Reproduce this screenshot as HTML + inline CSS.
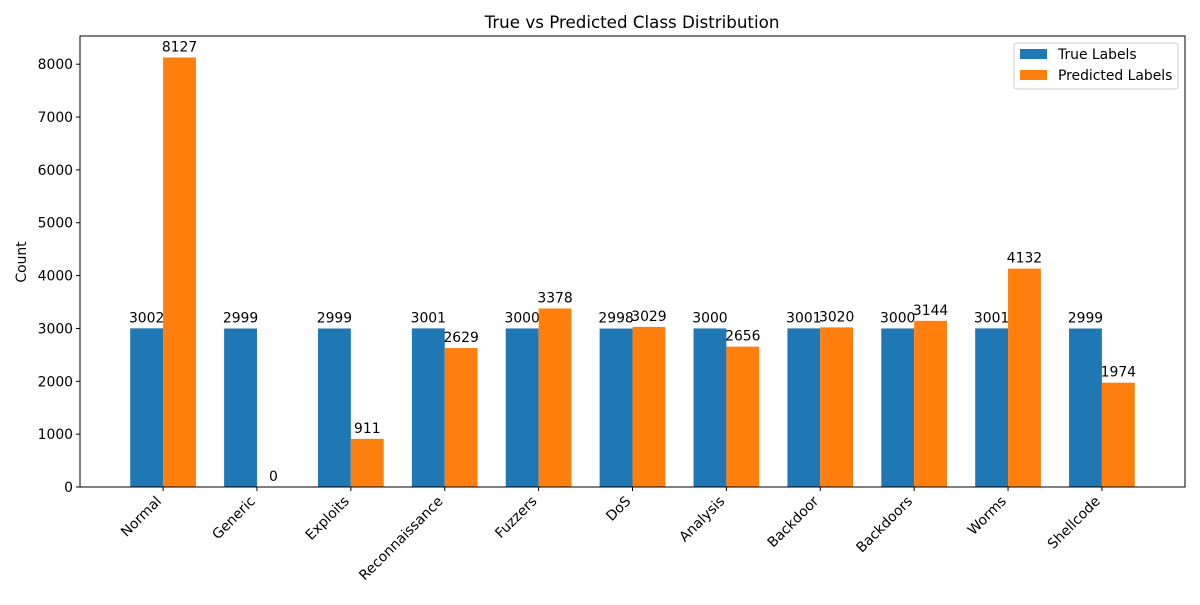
<!DOCTYPE html>
<html><head><meta charset="utf-8"><style>
body{margin:0;background:#fff;}
svg{font-family:"DejaVu Sans","Liberation Sans",sans-serif;}
</style></head><body>
<svg id="chart" width="1200" height="600" xmlns="http://www.w3.org/2000/svg">
<rect width="1200" height="600" fill="#fff"/>
<text x="632" y="28" font-size="16.7" text-anchor="middle">True vs Predicted Class Distribution</text>
<g id="plot"></g>
<rect x="80" y="36" width="1105" height="451" fill="none" stroke="#000" stroke-width="1"/>
<text transform="translate(26,262) rotate(-90)" font-size="13.9" text-anchor="middle">Count</text>
<g>
<rect x="1014" y="43" width="164" height="46" fill="#fff" stroke="#ccc" rx="3"/>
<rect x="1020" y="49" width="27" height="10" fill="#1f77b4"/>
<text x="1058" y="59" font-size="13.9">True Labels</text>
<rect x="1020" y="70" width="27" height="10" fill="#ff7f0e"/>
<text x="1058" y="80" font-size="13.9">Predicted Labels</text>
</g>
</svg>
<script>
const categories=["Normal","Generic","Exploits","Reconnaissance","Fuzzers","DoS","Analysis","Backdoor","Backdoors","Worms","Shellcode"];
const trueValues=[3002,2999,2999,3001,3000,2998,3000,3001,3000,3001,2999];
const predValues=[8127,0,911,2629,3378,3029,2656,3020,3144,4132,1974];
const yTicks=[0,1000,2000,3000,4000,5000,6000,7000,8000];
const NS="http://www.w3.org/2000/svg";
const L=80,R=1185,T=36,B=487;
const xmin=-0.885,xmax=10.885;
const ymax=Math.max(...predValues,...trueValues)*1.05;
const xs=v=>L+(v-xmin)/(xmax-xmin)*(R-L);
const ys=v=>B-v/ymax*(B-T);
const g=document.getElementById('plot');
function mk(tag,attrs){const e=document.createElementNS(NS,tag);for(const k in attrs)e.setAttribute(k,attrs[k]);g.appendChild(e);return e;}
const bw=0.35;
yTicks.forEach(t=>{
 const y=ys(t);
 const l=mk('line',{x1:L-4,x2:L,y1:y,y2:y,stroke:'#000'});
 
 
 const tx=mk('text',{x:L-7,y:y+5,'font-size':13.9,'text-anchor':'end'});
 tx.textContent=t;
 
 
});
categories.forEach((c,i)=>{
 [[trueValues[i],-bw,'#1f77b4','true'],[predValues[i],0,'#ff7f0e','pred']].forEach(([v,off,col,s])=>{
  const x0=xs(i+off),x1=xs(i+off+bw);
  const r=mk('rect',{x:x0,y:ys(v),width:x1-x0,height:B-ys(v),fill:col});
  
  
  const t=mk('text',{x:(x0+x1)/2,y:ys(v)-6,'font-size':13.9,'text-anchor':'middle'});
  t.textContent=v;
  
  
 });
 const x=xs(i);
 const tk=mk('line',{x1:x,x2:x,y1:B,y2:B+4,stroke:'#000'});
 
 
 const lb=mk('text',{x:0,y:0,'font-size':13.9,'text-anchor':'end',transform:`translate(${x-1},${B+15}) rotate(-45)`});
 lb.textContent=c;
 
 
});
</script>
</body></html>
